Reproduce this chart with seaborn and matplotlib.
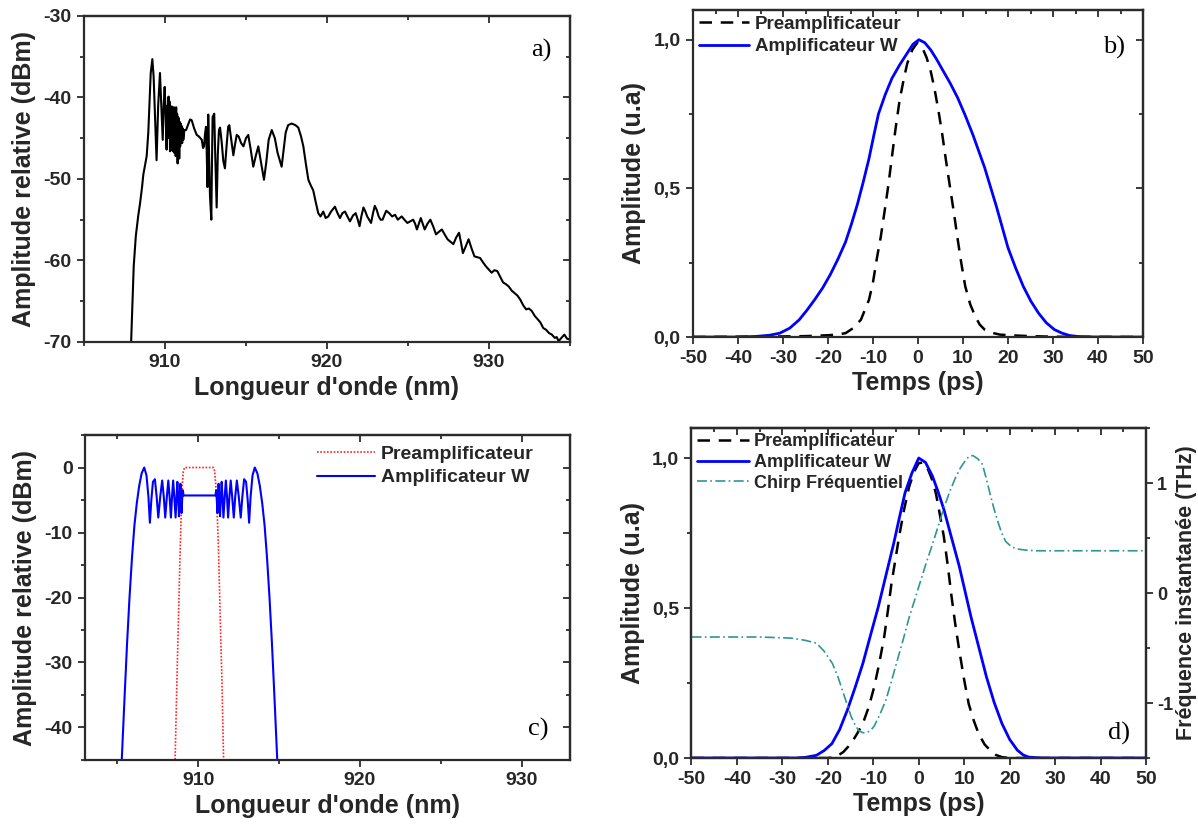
import matplotlib
matplotlib.use("Agg")
import matplotlib.pyplot as plt
from matplotlib.ticker import MultipleLocator, NullFormatter, FixedLocator, FixedFormatter
import seaborn as sns

# ---- panel a: measured output spectrum
wl_a = [907.85, 907.91, 908.07, 908.2, 908.35, 908.46, 908.59, 908.66, 908.78, 908.87,
        908.97, 909.05, 909.12, 909.22, 909.3, 909.4, 909.48, 909.58, 909.69, 909.78,
        909.86, 909.92, 909.98, 910.04, 910.1, 910.14, 910.18, 910.22, 910.25, 910.28,
        910.31, 910.34, 910.37, 910.41, 910.44, 910.48, 910.51, 910.55, 910.58, 910.62,
        910.66, 910.69, 910.72, 910.75, 910.78, 910.81, 910.83, 910.86, 910.88, 910.91,
        910.94, 910.97, 910.99, 911.03, 911.06, 911.1, 911.13, 911.2, 911.3, 911.45,
        911.55, 911.65, 911.8, 911.96, 912.1, 912.27,
        912.35, 912.41, 912.47, 912.53, 912.58, 912.62, 912.67, 912.72, 912.78, 912.86,
        912.9, 912.94, 913.04, 913.1, 913.19, 913.26, 913.33, 913.4, 913.5, 913.6,
        913.7, 913.8, 913.9, 913.97, 914.08, 914.22, 914.32, 914.43, 914.55, 914.7,
        914.84, 915.0, 915.14, 915.3, 915.45, 915.6, 915.76, 915.93, 916.11, 916.25,
        916.4, 916.59, 916.78, 916.95, 917.2, 917.32, 917.45, 917.6, 917.82, 918.05,
        918.23, 918.4, 918.54, 918.7, 918.85, 919.0, 919.15, 919.3, 919.46, 919.6,
        919.77, 919.92, 920.08, 920.25, 920.49, 920.65, 920.8, 920.95, 921.11, 921.26,
        921.42, 921.6, 921.77, 921.9, 922.01, 922.12, 922.25, 922.37, 922.48, 922.6,
        922.72, 922.84, 922.95, 923.07, 923.19, 923.31, 923.43, 923.55, 923.66, 923.84,
        924.02, 924.2, 924.37, 924.49, 924.61, 924.78, 924.96, 925.14, 925.32, 925.44,
        925.55, 925.67, 925.79, 925.91, 926.03, 926.2, 926.38, 926.55, 926.73, 926.9,
        927.09, 927.26, 927.44, 927.62, 927.8, 927.97, 928.15, 928.27, 928.39, 928.56,
        928.74, 928.92, 929.1, 929.27, 929.45, 929.62, 929.8, 929.98, 930.16, 930.33,
        930.51, 930.69, 930.87, 931.04, 931.22, 931.4, 931.58, 931.75, 931.93, 932.11,
        932.29, 932.46, 932.64, 932.82, 933.0, 933.17, 933.35, 933.52, 933.7, 933.88,
        934.06, 934.18, 934.29, 934.47, 934.65, 934.82, 935.0]
db_a = [-72, -70, -60.7, -57, -54.5, -53, -50.9, -49.5, -48.2, -47.2,
        -44.3, -40.5, -37, -35.3, -37.5, -43, -47.7, -41, -37, -41.5,
        -45.2, -41, -38.7, -42, -46.4, -41, -44.5, -39.9, -45, -40.5,
        -46.6, -41.5, -46, -41.1, -46.5, -41.5, -46.6, -41.2, -46.8, -41.5,
        -47.2, -41.2, -46.5, -42, -48.1, -42.4, -46.5, -42.6, -47.5, -43,
        -46, -43.2, -45.5, -43.5, -45.6, -43.8, -45.2, -44, -44, -43.2,
        -42.7, -42.8, -43.8, -44.6, -44.8, -45.2,
        -46.2, -46, -44.5, -43.6, -47, -51, -42.1, -47, -52.2, -55,
        -48, -42.4, -42, -47, -53.5, -47, -44, -43.7, -45.5, -47.8,
        -48.7, -46, -43.6, -43.4, -45, -47.1, -45.8, -44.6, -44.8, -45.6,
        -46, -45, -44.6, -46.5, -48.5, -47.2, -46, -48, -50.1, -48,
        -45.2, -44, -45, -46.8, -48.5, -46.5, -44.3, -43.4, -43.2, -43.4,
        -43.7, -44.8, -46, -48.2, -50.1, -50.8, -51.4, -52.8, -54.2, -54.6,
        -54, -54.8, -54.6, -54, -53.4, -54.2, -54.8, -54.2, -54, -54.6,
        -55.2, -54.5, -54.2, -55, -55.8, -54.6, -53.5, -54, -54.6, -55,
        -55.4, -54.2, -53.3, -53.8, -54.6, -55, -55, -54.4, -53.9, -54.2,
        -54.6, -54.4, -55, -54.8, -54.6, -55, -55.4, -55.2, -55, -55.5,
        -56.2, -55.5, -54.8, -55.5, -56.2, -55.5, -55, -55.8, -56.8, -56.5,
        -56.2, -56.8, -57.4, -57.7, -58, -57.2, -56.6, -57.8, -59.1, -58.3,
        -57.4, -58.5, -59.5, -59.6, -59.7, -60.2, -60.7, -61.1, -61.5, -61.2,
        -61.3, -62, -62.7, -62.9, -63.2, -63.7, -64, -64.3, -64.8, -65.5,
        -66, -65.9, -66.2, -66.8, -67.2, -67.6, -68.3, -68.5, -68.9, -69.1,
        -69.5, -69.4, -69.9, -69.5, -69.1, -69.6, -69.7]

# ---- panel b: temporal profiles
t_b_pre = [-50, -30, -25, -20, -18, -16.1, -14.4, -12.7, -10.9, -10, -9.2, -8.3, -7.5, -6.6,
           -5.8, -5, -4.1, -3.2, -2.4, -1.3, -0.2, 0.9, 1.9, 2.8, 3.6, 4.5, 5.4, 6.2, 7.1,
           8, 8.8, 9.6, 10.5, 11.6, 12.7, 13.7, 14.8, 16.5, 18.2, 21.7, 25, 30, 50]
amp_b_pre = [0, 0.002, 0.003, 0.006, 0.008, 0.013, 0.03, 0.058, 0.125, 0.185, 0.26, 0.335,
             0.416, 0.51, 0.606, 0.70, 0.796, 0.865, 0.92, 0.965, 0.99, 0.975, 0.94, 0.895,
             0.84, 0.765, 0.68, 0.595, 0.505, 0.415, 0.33, 0.25, 0.17, 0.11, 0.07, 0.042,
             0.025, 0.014, 0.008, 0.005, 0.003, 0.001, 0]
t_b_amp = [-50, -40, -36, -33, -30.7, -28.5, -26.4, -24.7, -23, -21.2, -19.5, -17.8, -16.1,
           -14.8, -13.5, -12.2, -10.9, -9.8, -8.8, -7.3, -5.8, -4.1, -2.4, -1.1, 0.2, 1.5,
           2.8, 4.1, 5.4, 7.1, 8.8, 10.5, 12.2, 13.5, 14.8, 16.1, 17.4, 18.7, 20, 21.7,
           23.4, 25.1, 26.8, 28.5, 30.3, 32, 33.7, 36, 40, 50]
amp_b_amp = [0, 0, 0.002, 0.006, 0.013, 0.03, 0.058, 0.09, 0.125, 0.165, 0.21, 0.262, 0.32,
             0.38, 0.445, 0.52, 0.6, 0.68, 0.75, 0.815, 0.87, 0.915, 0.955, 0.985, 1.0,
             0.99, 0.966, 0.935, 0.9, 0.855, 0.805, 0.745, 0.68, 0.625, 0.57, 0.505, 0.44,
             0.37, 0.30, 0.232, 0.17, 0.12, 0.08, 0.048, 0.025, 0.013, 0.005, 0.001, 0, 0]

# ---- panel c: simulated spectra
wl_c_pre = [908.5, 908.57, 908.68, 908.78, 908.88, 908.96, 909.02, 909.08, 909.15,
            910.95, 911.02, 911.08, 911.16, 911.26, 911.36, 911.47, 911.57, 911.62]
db_c_pre = [-48, -45, -33, -23, -13, -6, -2.5, -0.6, 0,
            0, -0.6, -2.5, -6, -13, -23, -33, -45, -48]
wl_c_amp = [905.2, 905.27, 905.45, 905.6, 905.75, 905.9, 906.05, 906.2, 906.35, 906.5,
            906.66, 906.8, 906.92, 907.01, 907.1, 907.2, 907.32, 907.43, 907.53, 907.65,
            907.77, 907.87, 907.96, 908.06, 908.15, 908.23, 908.31, 908.38, 908.45, 908.52,
            908.6, 908.66, 908.71, 908.76, 908.81, 908.86, 908.9, 908.94, 908.97, 909.01,
            909.05, 909.09, 909.2, 910.0, 910.96,
            911.07, 911.11, 911.15, 911.19, 911.22, 911.26, 911.3, 911.35, 911.4, 911.45,
            911.5, 911.56, 911.64, 911.71, 911.78, 911.85, 911.93, 912.01, 912.1, 912.2,
            912.29, 912.39, 912.51, 912.63, 912.73, 912.84, 912.96, 913.06, 913.15, 913.24,
            913.36, 913.5, 913.66, 913.81, 913.96, 914.11, 914.26, 914.41, 914.56, 914.71,
            914.89, 914.96]
db_c_amp = [-48, -45, -35, -27, -20, -14, -9, -5.5, -2.8, -0.9,
            0, -1.2, -4.5, -8.5, -5, -2.2, -1.8, -4.5, -7.7, -4.5,
            -2, -4.5, -7.7, -4.5, -2, -4.5, -7.7, -4.5, -2, -4.5,
            -7.7, -4.5, -2.2, -4.5, -7.5, -4.5, -2.5, -5, -7, -4.8,
            -3.5, -4.3, -4.3, -4.3, -4.3,
            -4.3, -3.5, -4.8, -7, -5, -2.5, -4.5, -7.5, -4.5, -2.2,
            -4.5, -7.7, -4.5, -2, -4.5, -7.7, -4.5, -2, -4.5, -7.7,
            -4.5, -2, -4.5, -7.7, -4.5, -1.8, -2.2, -5, -8.5, -4.5,
            -1.2, 0, -0.9, -2.8, -5.5, -9, -14, -20, -27, -35,
            -45, -48]

# ---- panel d: profiles and instantaneous frequency
t_d_pre = [-50, -20, -18.3, -16.6, -14.9, -13.6, -12.3, -11, -9.8, -8.7, -7.6, -6.8, -6, -5.1,
           -4.3, -3.2, -2.1, -1, 0, 1, 2.1, 3, 3.8, 4.6, 5.5, 6.4, 7.2, 8, 8.9, 10, 11,
           12.1, 13.2, 14.5, 15.7, 17, 18.3, 20, 50]
amp_d_pre = [0, 0, 0.003, 0.02, 0.048, 0.08, 0.115, 0.17, 0.237, 0.315, 0.404, 0.49, 0.582,
             0.665, 0.74, 0.83, 0.905, 0.955, 0.983, 0.985, 0.96, 0.925, 0.88, 0.815, 0.74,
             0.64, 0.54, 0.45, 0.36, 0.26, 0.18, 0.125, 0.08, 0.045, 0.026, 0.01, 0.003, 0, 0]
t_d_amp = [-50, -27, -25, -22.5, -20.8, -19.1, -17.4, -15.7, -14, -12.3, -10.6, -8.9, -7.2,
           -5.5, -4.2, -3, -1.5, 0, 1.5, 3, 4.2, 5.5, 7.2, 8.9, 10.2, 11.5, 13.2, 14.9,
           16.6, 18.3, 20, 21.7, 23, 24.2, 27, 50]
amp_d_amp = [0, 0, 0.002, 0.009, 0.025, 0.048, 0.095, 0.16, 0.235, 0.315, 0.41, 0.504, 0.61,
             0.716, 0.805, 0.885, 0.95, 1.0, 0.985, 0.94, 0.89, 0.83, 0.735, 0.64, 0.555,
             0.47, 0.37, 0.27, 0.185, 0.115, 0.062, 0.026, 0.01, 0.003, 0, 0]
t_chirp = [-50, -35, -28, -25, -22.5, -20.8, -19, -17.8, -16.6, -15.7, -14.9, -14, -13.2,
           -12.3, -11.5, -10.6, -9.8, -8.5, -7.2, -6, -4.7, -3.4, -2.1, -0.8, 0.4, 1.7, 3,
           4.3, 5.5, 6.8, 8.1, 9.2, 10.2, 11, 11.9, 13, 14, 14.8, 15.7, 16.6, 17.4, 18.2,
           19.1, 20.4, 21.7, 23.5, 26, 35, 50]
f_chirp = [-0.40, -0.40, -0.41, -0.43, -0.456, -0.53, -0.64, -0.76, -0.91, -1.02, -1.12,
           -1.2, -1.25, -1.27, -1.27, -1.25, -1.21, -1.1, -0.97, -0.8, -0.61, -0.42, -0.22,
           -0.05, 0.11, 0.28, 0.44, 0.61, 0.77, 0.92, 1.05, 1.14, 1.2, 1.24, 1.25, 1.22,
           1.17, 1.05, 0.9, 0.76, 0.65, 0.55, 0.47, 0.42, 0.40, 0.39, 0.384, 0.384, 0.384]

amp_ticks = [0.0, 0.5, 1.0]
amp_labels = ["0,0", "0,5", "1,0"]

SPINE = "#2b2b2b"
BLUE = "#0000ff"
TEAL = "#2e9696"

sns.set_theme(style="ticks")
plt.rcParams["font.family"] = ["Liberation Sans", "DejaVu Sans"]
plt.rcParams["font.weight"] = "bold"
plt.rcParams["axes.labelweight"] = "bold"
plt.rcParams["axes.unicode_minus"] = False

fig = plt.figure(figsize=(11.98, 8.25), dpi=100)
ax_a = fig.add_axes([0.0701, 0.5855, 0.4057, 0.3952])
ax_b = fig.add_axes([0.5785, 0.5915, 0.3756, 0.3964])
ax_c = fig.add_axes([0.0710, 0.0788, 0.4048, 0.3939])
ax_d = fig.add_axes([0.5772, 0.0812, 0.3794, 0.4000])


def style(ax, xmaj, xmin, ymaj, ymin, right_mirror=True):
    for s in ax.spines.values():
        s.set_visible(True)
        s.set_linewidth(1.6)
        s.set_color(SPINE)
    ax.xaxis.set_major_locator(MultipleLocator(xmaj))
    ax.yaxis.set_major_locator(MultipleLocator(ymaj))
    if xmin:
        ax.xaxis.set_minor_locator(MultipleLocator(xmin))
    ax.yaxis.set_minor_locator(MultipleLocator(ymin))
    ax.tick_params(which="both", direction="out", color=SPINE, width=1.3,
                   labelsize=14, pad=4, top=False, right=False)
    ax.tick_params(which="major", length=5)
    ax.tick_params(which="minor", length=3)
    top = ax.secondary_xaxis("top")
    top.xaxis.set_major_locator(MultipleLocator(xmaj))
    top.xaxis.set_minor_locator(MultipleLocator(xmin if xmin else xmaj / 2))
    top.xaxis.set_major_formatter(NullFormatter())
    top.tick_params(which="both", direction="in", color=SPINE, width=1.3)
    top.tick_params(which="major", length=5)
    top.tick_params(which="minor", length=3)
    top.spines["top"].set_linewidth(1.6)
    top.spines["top"].set_color(SPINE)
    if right_mirror:
        rgt = ax.secondary_yaxis("right")
        rgt.yaxis.set_major_locator(MultipleLocator(ymaj))
        rgt.yaxis.set_minor_locator(MultipleLocator(ymin))
        rgt.yaxis.set_major_formatter(NullFormatter())
        rgt.tick_params(which="both", direction="in", color=SPINE, width=1.3)
        rgt.tick_params(which="major", length=5)
        rgt.tick_params(which="minor", length=3)
        rgt.spines["right"].set_linewidth(1.6)
        rgt.spines["right"].set_color(SPINE)


def panel_tag(ax, txt, x, y):
    ax.text(x, y, txt, transform=ax.transAxes, ha="right", va="center",
            fontsize=19, fontweight="normal", family="Liberation Serif", color="black")


LBL = dict(fontsize=18, fontweight="bold")
LEG = {"weight": "bold", "size": 13.5}

# a)
sns.lineplot(x=wl_a, y=db_a, ax=ax_a, color="black", lw=1.5, estimator=None, sort=False)
ax_a.set_xlim(905, 935)
ax_a.set_ylim(-70, -30)
style(ax_a, 10, 5, 10, 5)
ax_a.set_xlabel("Longueur d'onde (nm)", labelpad=3, **LBL)
ax_a.set_ylabel("Amplitude relative (dBm)", labelpad=5, **LBL)
panel_tag(ax_a, "a)", 0.962, 0.895)

# b)
sns.lineplot(x=t_b_pre, y=amp_b_pre, ax=ax_b, color="black", lw=1.8, linestyle=(0, (5, 3.5)),
             estimator=None, sort=False, label="Preamplificateur")
sns.lineplot(x=t_b_amp, y=amp_b_amp, ax=ax_b, color=BLUE, lw=2.0, estimator=None, sort=False,
             label="Amplificateur W")
ax_b.set_xlim(-50, 50)
ax_b.set_ylim(0, 1.1)
style(ax_b, 10, None, 0.5, 0.25)
ax_b.yaxis.set_major_locator(FixedLocator(amp_ticks))
ax_b.yaxis.set_major_formatter(FixedFormatter(amp_labels))
ax_b.set_xlabel("Temps (ps)", labelpad=3, **LBL)
ax_b.set_ylabel("Amplitude (u.a)", labelpad=5, **LBL)
ax_b.legend(loc="upper left", frameon=False, handlelength=2.7, handletextpad=0.3,
            labelspacing=0.3, borderaxespad=0.1, borderpad=0.2, prop=LEG)
panel_tag(ax_b, "b)", 0.96, 0.885)

# c)
sns.lineplot(x=wl_c_pre, y=db_c_pre, ax=ax_c, color="#ff2020", lw=1.2, linestyle=(0, (1, 1)),
             estimator=None, sort=False, label="Preamplificateur")
sns.lineplot(x=wl_c_amp, y=db_c_amp, ax=ax_c, color=BLUE, lw=1.5, estimator=None, sort=False,
             label="Amplificateur W")
ax_c.set_xlim(903, 933)
ax_c.set_ylim(-45, 5)
style(ax_c, 10, 5, 10, 5)
ax_c.set_xlabel("Longueur d'onde (nm)", labelpad=3, **LBL)
ax_c.set_ylabel("Amplitude relative (dBm)", labelpad=5, **LBL)
ax_c.legend(loc="upper left", bbox_to_anchor=(0.47, 0.98), frameon=False, handlelength=3.0,
            handletextpad=0.3, labelspacing=0.3, borderaxespad=0, borderpad=0.2,
            prop={"weight": "bold", "size": 14})
panel_tag(ax_c, "c)", 0.955, 0.095)

# d)
sns.lineplot(x=t_d_pre, y=amp_d_pre, ax=ax_d, color="black", lw=1.8, linestyle=(0, (5, 3.5)),
             estimator=None, sort=False, legend=False)
sns.lineplot(x=t_d_amp, y=amp_d_amp, ax=ax_d, color=BLUE, lw=2.0, estimator=None, sort=False,
             legend=False)
ax_d.set_xlim(-50, 50)
ax_d.set_ylim(0, 1.1)
style(ax_d, 10, None, 0.5, 0.25, right_mirror=False)
ax_d.yaxis.set_major_locator(FixedLocator(amp_ticks))
ax_d.yaxis.set_major_formatter(FixedFormatter(amp_labels))
ax_d.set_xlabel("Temps (ps)", labelpad=3, **LBL)
ax_d.set_ylabel("Amplitude (u.a)", labelpad=5, **LBL)

tw = ax_d.twinx()
sns.lineplot(x=t_chirp, y=f_chirp, ax=tw, color=TEAL, lw=1.2, linestyle=(0, (6, 2, 1, 2)),
             estimator=None, sort=False, legend=False)
tw.set_ylim(-1.5, 1.5)
tw.yaxis.set_major_locator(FixedLocator([-1, 0, 1]))
tw.yaxis.set_major_formatter(FixedFormatter(["-1", "0", "1"]))
tw.yaxis.set_minor_locator(MultipleLocator(0.5))
tw.tick_params(which="both", direction="out", color=SPINE, width=1.3, labelsize=13, pad=3)
tw.tick_params(which="major", length=5)
tw.tick_params(which="minor", length=3)
for s in tw.spines.values():
    s.set_linewidth(1.6)
    s.set_color(SPINE)
tw.set_ylabel("Fréquence instantanée (THz)", labelpad=2, fontsize=15.5, fontweight="bold")

handles = ax_d.get_lines()[:2] + tw.get_lines()[:1]
ax_d.legend(handles, ["Preamplificateur", "Amplificateur W", "Chirp Fréquentiel"],
            loc="upper left", frameon=False, handlelength=2.9, handletextpad=0.25,
            labelspacing=0.2, borderaxespad=0.1, borderpad=0.2,
            prop={"weight": "bold", "size": 13})
panel_tag(ax_d, "d)", 0.965, 0.075)

fig.savefig("out.png", dpi=100)
